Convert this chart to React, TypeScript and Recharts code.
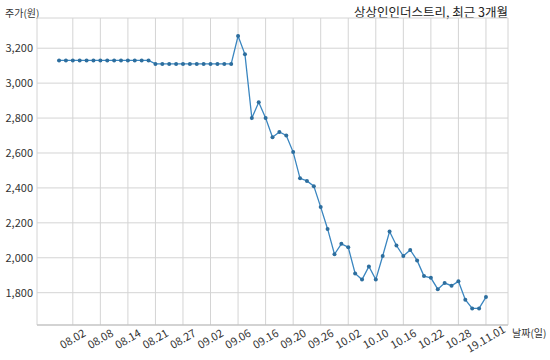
import React from 'react';
import { LineChart, Line, XAxis, YAxis, CartesianGrid } from 'recharts';

const dates = [
  '07.31', '08.01', '08.02', '08.05', '08.06', '08.07', '08.08', '08.09', '08.12', '08.13',
  '08.14', '08.16', '08.19', '08.20', '08.21', '08.22', '08.23', '08.26', '08.27', '08.28',
  '08.29', '08.30', '09.02', '09.03', '09.04', '09.05', '09.06', '09.09', '09.10', '09.11',
  '09.16', '09.17', '09.18', '09.19', '09.20', '09.23', '09.24', '09.25', '09.26', '09.27',
  '09.30', '10.01', '10.02', '10.04', '10.07', '10.08', '10.10', '10.11', '10.14', '10.15',
  '10.16', '10.17', '10.18', '10.21', '10.22', '10.23', '10.24', '10.25', '10.28', '10.29',
  '10.30', '10.31', '19.11.01',
];

const prices = [
  3130, 3130, 3130, 3130, 3130, 3130, 3130, 3130, 3130, 3130,
  3130, 3130, 3130, 3130, 3110, 3110, 3110, 3110, 3110, 3110,
  3110, 3110, 3110, 3110, 3110, 3110, 3270, 3165, 2800, 2890,
  2800, 2690, 2720, 2700, 2605, 2455, 2440, 2410, 2290, 2165,
  2020, 2080, 2060, 1910, 1875, 1950, 1875, 2010, 2150, 2070,
  2010, 2045, 1985, 1895, 1885, 1820, 1855, 1840, 1865, 1760,
  1710, 1710, 1775,
];

// every 4th trading day gets a label
const xTicks = [2, 6, 10, 14, 18, 22, 26, 30, 34, 38, 42, 46, 50, 54, 58, 62];
const yTicks = [1800, 2000, 2200, 2400, 2600, 2800, 3000, 3200];

const data = prices.map((price, i) => ({ idx: i, date: dates[i], price }));

const font = '"Noto Sans CJK KR", "Noto Sans", sans-serif';

const DateTick = (props: any) => {
  const { x, y, payload } = props;
  return (
    <g transform={`translate(${x},${y + 12}) rotate(-30)`}>
      <text textAnchor="middle" dy="0.35em" fontSize={11} fill="#333" fontFamily={font}>
        {dates[payload.value]}
      </text>
    </g>
  );
};

export default function App() {
  return (
    <div style={{ position: 'absolute', left: 0, top: 0, width: 550, height: 360, background: '#fff', fontFamily: font }}>
      <div style={{ position: 'absolute', left: 5, top: 6, fontSize: 10, color: '#333', lineHeight: '14px' }}>
        주가(원)
      </div>
      <div style={{ position: 'absolute', right: 42, top: 4, fontSize: 12.5, color: '#222', lineHeight: '16px' }}>
        상상인인더스트리, 최근 3개월
      </div>
      <div style={{ position: 'absolute', left: 512, top: 326, fontSize: 10, color: '#333', lineHeight: '14px' }}>
        날짜(일)
      </div>
      <LineChart width={550} height={360} data={data} margin={{ top: 18, right: 42, bottom: 0, left: 0 }}>
        <CartesianGrid stroke="#d4d4d4" />
        <XAxis
          dataKey="idx"
          type="number"
          domain={[-3.2, 65.2]}
          ticks={xTicks}
          interval={0}
          height={35}
          tickLine={false}
          tickSize={0}
          axisLine={{ stroke: '#bdbdbd' }}
          tick={<DateTick />}
        />
        <YAxis
          type="number"
          domain={[1615, 3373]}
          ticks={yTicks}
          allowDataOverflow
          width={37}
          tickLine={false}
          axisLine={false}
          tickSize={0}
          tickMargin={4}
          tick={{ fontSize: 11, fill: '#333', fontFamily: font }}
          tickFormatter={(v: number) => v.toLocaleString('en-US')}
        />
        <Line
          type="linear"
          dataKey="price"
          stroke="#3a86c0"
          strokeWidth={1.3}
          dot={{ r: 2, fill: '#2d6e9e', stroke: 'none' }}
          activeDot={false}
          isAnimationActive={false}
        />
      </LineChart>
    </div>
  );
}
